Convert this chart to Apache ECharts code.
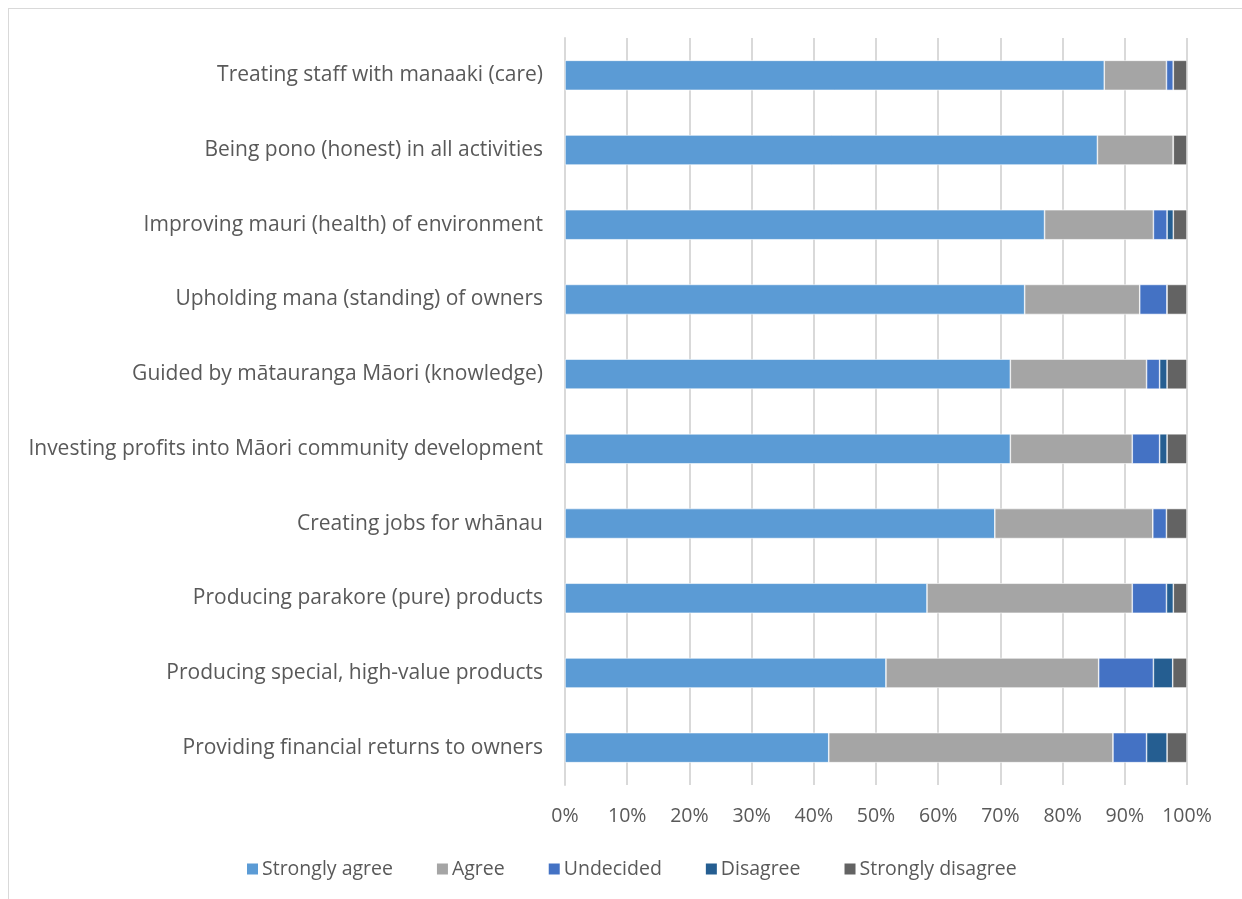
<!DOCTYPE html>
<html>
<head>
<meta charset="utf-8">
<script src="https://cdn.jsdelivr.net/npm/echarts@6/dist/echarts.min.js"></script>
<style>
html,body{margin:0;padding:0;background:#fff;}
#frame{position:absolute;left:8px;top:8px;width:1300px;height:1000px;border-left:1.5px solid #d9d9d9;border-top:1.5px solid #d9d9d9;}
#chart{position:absolute;left:0;top:0;width:1242px;height:899px;}
</style>
</head>
<body>
<div id="frame"></div>
<div id="chart"></div>
<script>
const categories = [
  "Treating staff with manaaki (care)",
  "Being pono (honest) in all activities",
  "Improving mauri (health) of environment",
  "Upholding mana (standing) of owners",
  "Guided by mātauranga Māori (knowledge)",
  "Investing profits into Māori community development",
  "Creating jobs for whānau",
  "Producing parakore (pure) products",
  "Producing special, high-value products",
  "Providing financial returns to owners"
];
const seriesNames = ["Strongly agree", "Agree", "Undecided", "Disagree", "Strongly disagree"];
const stronglyAgree    = [86.7, 85.6, 77.1, 73.9, 71.6, 71.6, 69.1, 58.2, 51.6, 42.4];
const agree            = [10.0, 12.2, 17.5, 18.5, 21.9, 19.6, 25.4, 33.0, 34.2, 45.7];
const undecided        = [1.1, 0, 2.2, 4.4, 2.1, 4.4, 2.2, 5.5, 8.8, 5.4];
const disagree         = [0, 0, 1.0, 0, 1.2, 1.2, 0, 1.1, 3.1, 3.3];
const stronglyDisagree = [2.2, 2.2, 2.2, 3.2, 3.2, 3.2, 3.3, 2.2, 2.3, 3.2];
const xTicks = [0, 10, 20, 30, 40, 50, 60, 70, 80, 90, 100];

const colors = ["#5B9BD5", "#A5A5A5", "#4472C4", "#255E91", "#636363"];
const values = [stronglyAgree, agree, undecided, disagree, stronglyDisagree];
const FONT = "'Open Sans', sans-serif";

const chart = echarts.init(document.getElementById('chart'), null, {renderer: 'canvas'});
chart.setOption({
  animation: false,
  backgroundColor: 'transparent',
  color: colors,
  textStyle: {fontFamily: FONT},
  grid: {left: 565, right: 55, top: 38, bottom: 114, containLabel: false},
  xAxis: {
    type: 'value', min: xTicks[0], max: xTicks[xTicks.length - 1], interval: 10,
    axisLabel: {formatter: v => v + '%', color: '#595959', fontSize: 19.5, fontFamily: FONT, margin: 21},
    splitLine: {show: true, lineStyle: {color: '#d9d9d9', width: 2}},
    axisLine: {show: false}, axisTick: {show: false}
  },
  yAxis: {
    type: 'category', data: categories, inverse: true,
    axisLabel: {color: '#595959', fontSize: 21, fontFamily: FONT, margin: 22},
    axisLine: {show: true, lineStyle: {color: '#d9d9d9', width: 2}},
    axisTick: {show: false}
  },
  legend: {
    data: seriesNames, bottom: 15, left: 240,
    itemWidth: 13, itemHeight: 13, itemGap: 42,
    icon: 'rect',
    textStyle: {color: '#595959', fontSize: 19.5, fontFamily: FONT, padding: [0, 0, 0, -2]}
  },
  series: seriesNames.map((n, i) => ({
    name: n, type: 'bar', stack: 'total', data: values[i],
    barWidth: 30,
    itemStyle: {color: colors[i], borderColor: '#ffffff', borderWidth: 0.6}
  }))
});
</script>
</body>
</html>
